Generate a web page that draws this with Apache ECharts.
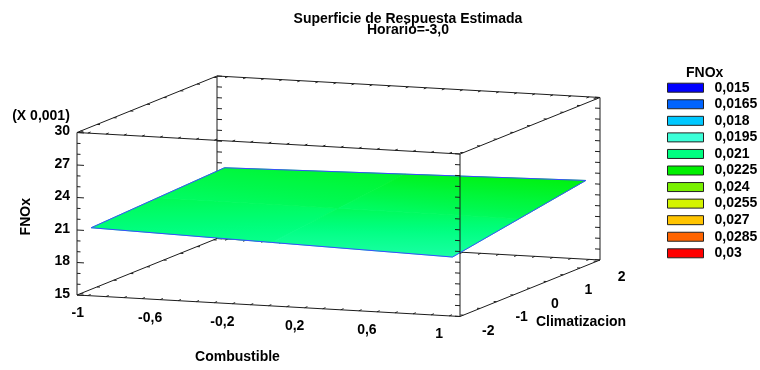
<!DOCTYPE html>
<html>
<head>
<meta charset="utf-8">
<script src="https://cdn.jsdelivr.net/npm/echarts@6/dist/echarts.min.js"></script>
<style>
  html, body { margin: 0; padding: 0; background: #fff; }
  #chart { width: 760px; height: 370px; }
</style>
</head>
<body>
<div id="chart"></div>
<script>
// Estimated FNOx (in units of 0.001) on a Combustible x Climatizacion grid, Horario = -3
const combustible = [-1, 0, 1];
const climatizacion = [-2, 0, 2];
const fnox = [
  [21.14, 20.72, 20.31],   // Climatizacion = -2
  [21.43, 21.39, 21.36],   // Climatizacion =  0
  [21.71, 22.06, 22.41]    // Climatizacion =  2
];

// Axis tick labels
const xTickLabels = [-1, -0.6, -0.2, 0.2, 0.6, 1];
const yTickLabels = [-2, -1, 0, 1, 2];
const zTickLabels = [15, 18, 21, 24, 27, 30];

// Contour levels of the colour key
const legendLevels = [0.015, 0.0165, 0.018, 0.0195, 0.021, 0.0225, 0.024, 0.0255, 0.027, 0.0285, 0.03];
const legendColors = ['#0000ff', '#0064ff', '#00c8ff', '#3cffd8', '#00ff80', '#00f000',
                      '#78f000', '#d4f400', '#ffc400', '#ff6400', '#ff0000'];

// Box extents in data units (the box is padded slightly beyond the tick range on x and y)
const X_RANGE = [-1.06, 1.06];
const Y_RANGE = [-2.1, 2.1];
const Z_RANGE = [15, 30];

// Oblique projection of the box (pixel lengths of each box direction)
const PROJ = { frontW: 383, depthDx: 140, xDrop: 21.5, depthRise: 56.5, zH: 162.5 };
const GW = PROJ.frontW + PROJ.depthDx;
const GH = PROJ.xDrop + PROJ.depthRise + PROJ.zH;

const FONT = '"Liberation Sans", Arial, Helvetica, sans-serif';
const EDGE_COLOR = '#1c1c1c';

function fracs(x, y, z) {
  return [
    (x - X_RANGE[0]) / (X_RANGE[1] - X_RANGE[0]),
    (y - Y_RANGE[0]) / (Y_RANGE[1] - Y_RANGE[0]),
    (z - Z_RANGE[0]) / (Z_RANGE[1] - Z_RANGE[0])
  ];
}
function projFrac(fx, fy, fz) {
  return [
    (PROJ.frontW * fx + PROJ.depthDx * fy) / GW,
    (PROJ.xDrop * (1 - fx) + PROJ.depthRise * fy + PROJ.zH * fz) / GH
  ];
}
function toScreen(api, x, y, z) {
  const f = fracs(x, y, z);
  return api.coord(projFrac(f[0], f[1], f[2]));
}

function colorOf(zScaled) {
  const lo = legendLevels[0], hi = legendLevels[legendLevels.length - 1];
  let t = (zScaled * 0.001 - lo) / (hi - lo);
  t = Math.max(0, Math.min(1, t));
  return echarts.color.lerp(t, legendColors);
}
function fmt(v) { return String(v).replace('.', ','); }

// ---- box edges ----
// each edge runs along one axis; the other two coordinates are fixed at box min (0) or max (1)
const edges = [];
[[0, 0], [0, 1], [1, 0], [1, 1]].forEach(function (p) {
  edges.push({ axis: 'x', a: p[0], b: p[1] });   // a = fy, b = fz
  edges.push({ axis: 'y', a: p[0], b: p[1] });   // a = fx, b = fz
  edges.push({ axis: 'z', a: p[0], b: p[1] });   // a = fx, b = fy
});
function isBackEdge(e) {
  return (e.axis === 'x' && e.a === 1) || (e.axis === 'z' && e.b === 1);
}
function ticksFor(axis) {
  const out = [];
  if (axis === 'x') { for (let i = 0; i <= 20; i++) out.push(-1 + i * 0.1); }
  if (axis === 'y') { for (let i = 0; i <= 8; i++) out.push(-2 + i * 0.5); }
  if (axis === 'z') { for (let i = 0; i <= 15; i++) out.push(15 + i); }
  return out;
}

function edgeFracs(e, t) {
  if (e.axis === 'x') return [t, e.a, e.b];
  if (e.axis === 'y') return [e.a, t, e.b];
  return [e.a, e.b, t];
}

function renderEdge(params, api) {
  const e = edges[api.value(0)];
  const children = [];
  const p0 = api.coord(projFrac.apply(null, edgeFracs(e, 0)));
  const p1 = api.coord(projFrac.apply(null, edgeFracs(e, 1)));
  children.push({
    type: 'line',
    shape: { x1: p0[0], y1: p0[1], x2: p1[0], y2: p1[1] },
    style: { stroke: EDGE_COLOR, lineWidth: 1 }
  });
  const range = e.axis === 'x' ? X_RANGE : (e.axis === 'y' ? Y_RANGE : Z_RANGE);
  ticksFor(e.axis).forEach(function (v) {
    const t = (v - range[0]) / (range[1] - range[0]);
    const f = edgeFracs(e, t);
    // ticks point into the box along a neighbouring direction
    const g = f.slice();
    let len = 3;
    if (e.axis === 'x') { g[1] += (e.a === 0 ? 0.05 : -0.05); }
    else { g[0] += (e.a === 0 ? 0.05 : -0.05); }
    if (e.axis === 'z') {
      const frontLeft = e.a === 0 && e.b === 0;
      len = frontLeft ? (Math.round(v) % 3 === 0 ? 7 : 3.5) : 5;
    }
    const a = api.coord(projFrac(f[0], f[1], f[2]));
    const b = api.coord(projFrac(g[0], g[1], g[2]));
    const dx = b[0] - a[0], dy = b[1] - a[1];
    const n = Math.sqrt(dx * dx + dy * dy) || 1;
    children.push({
      type: 'line',
      shape: { x1: a[0], y1: a[1], x2: a[0] + dx / n * len, y2: a[1] + dy / n * len },
      style: { stroke: EDGE_COLOR, lineWidth: 1 }
    });
  });
  return { type: 'group', children: children };
}

const backEdgeData = [], frontEdgeData = [];
edges.forEach(function (e, i) { (isBackEdge(e) ? backEdgeData : frontEdgeData).push([i]); });

// ---- surface cells ----
const cellData = [];
for (let r = 0; r < climatizacion.length - 1; r++) {
  for (let c = 0; c < combustible.length - 1; c++) cellData.push([c, r]);
}

function renderCell(params, api) {
  const c = api.value(0), r = api.value(1);
  const xs = [combustible[c], combustible[c + 1]];
  const ys = [climatizacion[r], climatizacion[r + 1]];
  const z00 = fnox[r][c], z10 = fnox[r][c + 1], z01 = fnox[r + 1][c], z11 = fnox[r + 1][c + 1];
  const P00 = toScreen(api, xs[0], ys[0], z00);
  const P10 = toScreen(api, xs[1], ys[0], z10);
  const P01 = toScreen(api, xs[0], ys[1], z01);
  const P11 = toScreen(api, xs[1], ys[1], z11);
  const pts = [P00, P10, P11, P01];
  const zs = [z00, z10, z11, z01];

  // screen-space gradient of the response over this cell
  const du = [((P10[0] - P00[0]) + (P11[0] - P01[0])) / 2, ((P10[1] - P00[1]) + (P11[1] - P01[1])) / 2];
  const dw = [((P01[0] - P00[0]) + (P11[0] - P10[0])) / 2, ((P01[1] - P00[1]) + (P11[1] - P10[1])) / 2];
  const zu = ((z10 - z00) + (z11 - z01)) / 2;
  const zw = ((z01 - z00) + (z11 - z10)) / 2;
  const det = du[0] * dw[1] - du[1] * dw[0];
  const gx = (zu * dw[1] - zw * du[1]) / det;
  const gy = (du[0] * zw - dw[0] * zu) / det;
  const gm = Math.sqrt(gx * gx + gy * gy);
  const cx = (P00[0] + P10[0] + P11[0] + P01[0]) / 4;
  const cy = (P00[1] + P10[1] + P11[1] + P01[1]) / 4;
  const zc = (z00 + z10 + z11 + z01) / 4;

  let fill;
  if (gm < 1e-9) {
    fill = colorOf(zc);
  } else {
    const d = [gx / gm, gy / gm];
    const tc = cx * d[0] + cy * d[1];
    let tmin = Infinity, tmax = -Infinity;
    pts.forEach(function (p) {
      const t = p[0] * d[0] + p[1] * d[1];
      tmin = Math.min(tmin, t); tmax = Math.max(tmax, t);
    });
    const stops = [];
    const N = 8;
    for (let k = 0; k <= N; k++) {
      const t = tmin + (tmax - tmin) * k / N;
      stops.push({ offset: k / N, color: colorOf(zc + gm * (t - tc)) });
    }
    fill = new echarts.graphic.LinearGradient(
      cx + (tmin - tc) * d[0], cy + (tmin - tc) * d[1],
      cx + (tmax - tc) * d[0], cy + (tmax - tc) * d[1],
      stops, true);
  }
  return {
    type: 'polygon',
    shape: { points: pts },
    style: { fill: fill, stroke: fill, lineWidth: 0.8 }
  };
}

function renderOutline(params, api) {
  const ring = [];
  const nx = combustible.length, ny = climatizacion.length;
  for (let c = 0; c < nx; c++) ring.push([c, 0]);
  for (let r = 1; r < ny; r++) ring.push([nx - 1, r]);
  for (let c = nx - 2; c >= 0; c--) ring.push([c, ny - 1]);
  for (let r = ny - 2; r > 0; r--) ring.push([0, r]);
  const pts = ring.map(function (q) {
    return toScreen(api, combustible[q[0]], climatizacion[q[1]], fnox[q[1]][q[0]]);
  });
  return {
    type: 'polygon',
    shape: { points: pts },
    style: { fill: 'none', stroke: '#3a4cff', lineWidth: 1 }
  };
}

// ---- axis texts ----
const labels = [];
xTickLabels.forEach(function (v) {
  labels.push({ text: fmt(v), at: [v, Y_RANGE[0], Z_RANGE[0]], off: [-10, 18], align: 'center' });
});
yTickLabels.forEach(function (v) {
  labels.push({ text: fmt(v), at: [X_RANGE[1], v, Z_RANGE[0]], off: [25, 15.5], align: 'center' });
});
zTickLabels.forEach(function (v) {
  labels.push({ text: fmt(v), at: [X_RANGE[0], Y_RANGE[0], v], off: [-7, -1], align: 'right' });
});
labels.push({ text: '(X 0,001)', at: [X_RANGE[0], Y_RANGE[0], Z_RANGE[1]], off: [-36, -16], align: 'center' });
labels.push({ text: 'FNOx', at: [X_RANGE[0], Y_RANGE[0], 22.5], off: [-51, 3], align: 'center', rotate: true });
labels.push({ text: 'Combustible', at: [0, Y_RANGE[0], Z_RANGE[0]], off: [-31, 51], align: 'center' });
labels.push({ text: 'Climatizacion', at: [X_RANGE[1], 0, Z_RANGE[0]], off: [51, 33.5], align: 'center' });

function renderLabel(params, api) {
  const L = labels[api.value(0)];
  const p = toScreen(api, L.at[0], L.at[1], L.at[2]);
  return {
    type: 'text',
    x: p[0] + L.off[0],
    y: p[1] + L.off[1],
    rotation: L.rotate ? Math.PI / 2 : 0,
    style: {
      text: L.text,
      fill: '#000',
      fontFamily: FONT,
      fontSize: 14,
      fontWeight: 'bold',
      align: L.align,
      verticalAlign: 'middle'
    }
  };
}

// legend entries (colour key)
const legendNames = legendLevels.map(fmt);
const legendSeries = legendNames.map(function (name, i) {
  return {
    name: name,
    type: 'custom',
    renderItem: function () { return null; },
    data: [],
    itemStyle: { color: legendColors[i] }
  };
});

const chart = echarts.init(document.getElementById('chart'), null, { renderer: 'canvas' });
chart.setOption({
  animation: false,
  backgroundColor: '#fff',
  title: {
    text: 'Superficie de Respuesta Estimada\nHorario=-3,0',
    left: 408,
    top: 13,
    textAlign: 'center',
    padding: 0,
    textStyle: { fontFamily: FONT, fontSize: 14, fontWeight: 'bold', color: '#000', lineHeight: 11.5 }
  },
  legend: {
    data: legendNames,
    orient: 'vertical',
    left: 667,
    top: 80.7,
    padding: 0,
    icon: 'rect',
    itemWidth: 36,
    itemHeight: 9,
    itemGap: 2.56,
    selectedMode: false,
    itemStyle: { borderColor: '#222', borderWidth: 1 },
    textStyle: { fontFamily: FONT, fontSize: 14, fontWeight: 'bold', color: '#000', lineHeight: 14, padding: [0, 0, 0, 6] }
  },
  graphic: [{
    type: 'text',
    left: 686,
    top: 66,
    style: { text: 'FNOx', fontFamily: FONT, fontSize: 14, fontWeight: 'bold', fill: '#000' }
  }],
  grid: { left: 77, top: 76, width: GW, height: GH },
  xAxis: { type: 'value', min: 0, max: 1, show: false },
  yAxis: { type: 'value', min: 0, max: 1, show: false },
  series: [
    { type: 'custom', name: 'backEdges', renderItem: renderEdge, data: backEdgeData, z: 1, silent: true },
    { type: 'custom', name: 'surface', renderItem: renderCell, data: cellData, z: 2, silent: true },
    { type: 'custom', name: 'outline', renderItem: renderOutline, data: [[0]], z: 3, silent: true },
    { type: 'custom', name: 'frontEdges', renderItem: renderEdge, data: frontEdgeData, z: 4, silent: true },
    { type: 'custom', name: 'axisText', renderItem: renderLabel, data: labels.map(function (l, i) { return [i]; }), z: 5, silent: true }
  ].concat(legendSeries)
});
</script>
</body>
</html>
